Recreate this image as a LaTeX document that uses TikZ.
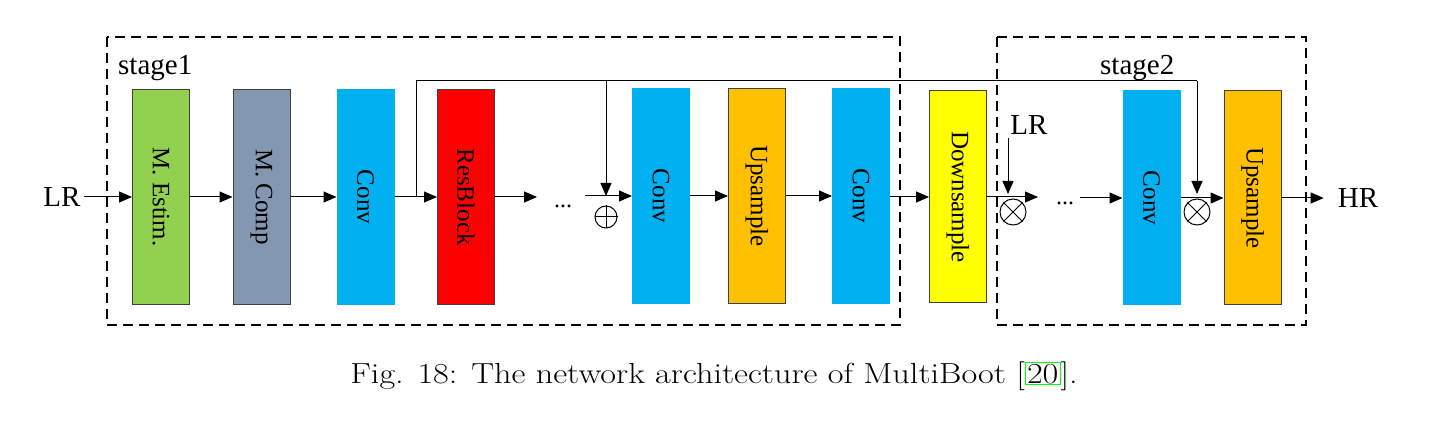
\documentclass[tikz,border=0pt]{standalone}
\usepackage{fontspec}
\newfontfamily\tnr{Liberation Serif}
\usetikzlibrary{arrows.meta}
\definecolor{cgreen}{HTML}{92D050}
\definecolor{cgray}{HTML}{8497B0}
\definecolor{ccyan}{HTML}{00B0F0}
\definecolor{cred}{HTML}{FF0000}
\definecolor{corange}{HTML}{FFC000}
\definecolor{cyellow}{HTML}{FFFF00}
\definecolor{cborder}{HTML}{404040}
\definecolor{linkgreen}{HTML}{00FF00}
\begin{document}
\begin{tikzpicture}[x=1pt,y=-1pt,
  blk/.style={draw=cborder,line width=1pt,minimum width=57pt,minimum height=215pt,inner sep=0pt,font=\tnr\fontsize{25}{25}\selectfont},
  arr/.style={line width=1pt,-{Triangle[length=13pt,width=11pt]}},
  ln/.style={line width=1pt},
  stagebox/.style={draw,line width=1.8pt,dash pattern=on 10pt off 6pt},
  lbl/.style={font=\tnr\fontsize{29}{29}\selectfont,inner sep=0pt},
  dotsty/.style={font=\tnr\fontsize{24}{24}\selectfont,inner sep=0pt},
  opc/.style={circle,draw,line width=1pt,inner sep=0pt,minimum size=#1}]
\useasboundingbox[fill=white] (0,0) rectangle (1438,430);
% stage boxes
\draw[stagebox] (107,37) rectangle (900,325);
\draw[stagebox] (997,37) rectangle (1306,325);
\node[lbl,anchor=base west] (st1) at (118,75) {stage1};
\node[lbl,anchor=base west] (st2) at (1100,75) {stage2};
% blocks
\node[blk,fill=cgreen] (est) at (161,197) {\rotatebox{-90}{M. Estim.}};
\node[blk,fill=cgray] (comp) at (261.5,197) {\rotatebox{-90}{M. Comp}};
\node[blk,fill=ccyan,draw=ccyan] (conv1) at (365.5,197) {\rotatebox{-90}{Conv}};
\node[blk,fill=cred] (res) at (466,197) {\rotatebox{-90}{ResBlock}};
\node[blk,fill=ccyan,draw=ccyan] (conv2) at (661,196) {\rotatebox{-90}{Conv}};
\node[blk,fill=corange] (up1) at (757,196) {\rotatebox{-90}{Upsample}};
\node[blk,fill=ccyan,draw=ccyan] (conv3) at (861,196) {\rotatebox{-90}{Conv}};
\node[blk,fill=cyellow,minimum height=212pt] (down) at (958,197) {\rotatebox{-90}{Downsample}};
\node[blk,fill=ccyan,draw=ccyan,minimum height=214pt] (conv4) at (1151.5,198) {\rotatebox{-90}{Conv}};
\node[blk,fill=corange,minimum height=214pt] (up2) at (1252.5,198) {\rotatebox{-90}{Upsample}};
% labels
\node[lbl] (lr) at (62,197) {LR};
\node[lbl] (lr2) at (1029,125) {LR};
\node[lbl] (hr) at (1358,198) {HR};
\node[dotsty] (dots1) at (563,206) {...};
\node[dotsty] (dots2) at (1065,203) {...};
% operators
\node[opc=22pt] (plus) at (606,217) {};
\draw[ln] (plus.north) -- (plus.south) (plus.west) -- (plus.east);
\node[opc=26pt] (mul1) at (1013,212) {};
\draw[ln] (mul1.north west) -- (mul1.south east) (mul1.north east) -- (mul1.south west);
\node[opc=26pt] (mul2) at (1197,212) {};
\draw[ln] (mul2.north west) -- (mul2.south east) (mul2.north east) -- (mul2.south west);
% coordinates
\coordinate (d1in) at (537,197);
\coordinate (d1out) at (585,196);
\coordinate (d2in) at (1038,197);
\coordinate (d2out) at (1080,198);
\coordinate (sp) at (416,197);
\coordinate (top1) at (416,81);
\coordinate (tA) at (606,81);
\coordinate (tB) at (1197,81);
\coordinate (pin) at (606,196);
\coordinate (xin2) at (1197,194);
\coordinate (lr2s) at (1008,138);
\coordinate (xin1) at (1008,194);
% main chain
\draw[arr,shorten <=3pt] (lr) -- (est);
\draw[arr] (est) -- (comp);
\draw[arr] (comp) -- (conv1);
\draw[arr] (conv1) -- (res);
\draw[arr] (res.east |- d1in) -- (d1in);
\draw[arr] (d1out) -- (conv2.west |- d1out);
\draw[arr] (conv2) -- (up1);
\draw[arr] (up1) -- (conv3);
\draw[arr] (conv3.east |- down) -- (down);
\draw[arr] (down) -- (d2in);
\draw[arr] (d2out) -- (conv4);
\draw[arr] (conv4) -- (up2);
\draw[arr,shorten >=14pt] (up2) -- (hr.west |- up2);
% skip connections
\draw[ln] (sp) -- (top1) -- (tB);
\draw[arr] (tA) -- (pin);
\draw[arr] (tB) -- (xin2);
\draw[arr] (lr2s) -- (xin1);
% caption
\node[anchor=base,inner sep=0pt,font=\fontsize{29}{29}\selectfont] (cap) at (714,383) {\scalebox{1.18}[1]{Fig. 18: The network architecture of MultiBoot [{\fboxsep=1pt\fboxrule=0.8pt\fcolorbox{linkgreen}{white}{20}}].}};
\end{tikzpicture}
\end{document}
